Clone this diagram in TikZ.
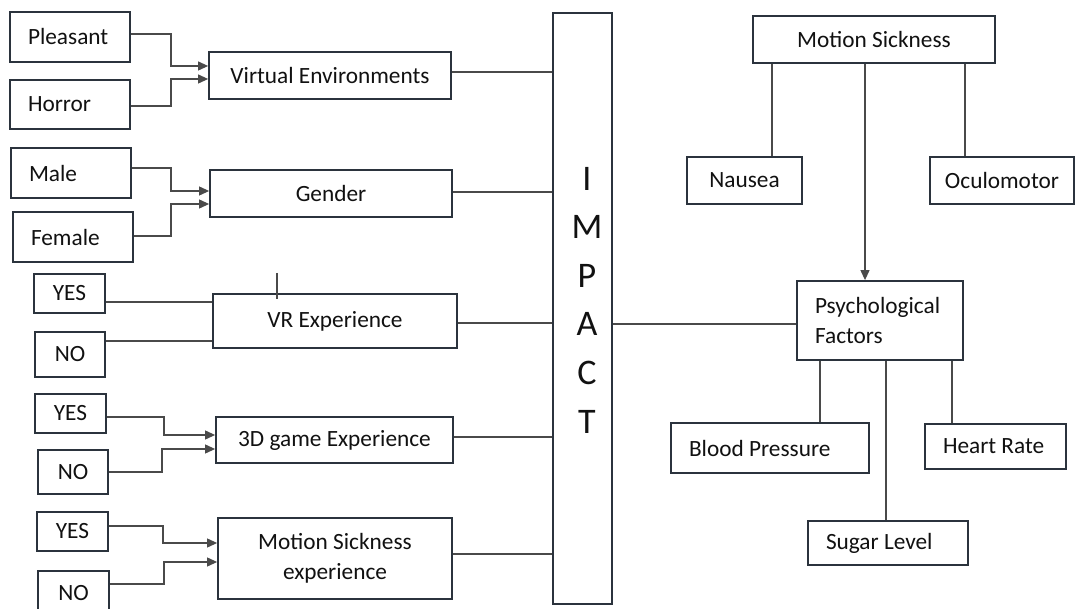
\documentclass[tikz,border=0pt]{standalone}
\usepackage{fontspec}
\setmainfont{Carlito}
\usetikzlibrary{arrows.meta}
\definecolor{bordc}{HTML}{2B333D}
\definecolor{linec}{HTML}{4A4A4A}
\definecolor{txtc}{HTML}{111111}
\begin{document}
\begin{tikzpicture}[x=1pt,y=-1pt,
  box/.style={draw=bordc, line width=1.8pt, rectangle, inner sep=0pt, text=txtc, font=\fontsize{23.3}{30}\selectfont},
  lbox/.style={box, align=flush left, inner xsep=18pt},
  conn/.style={draw=linec, line width=1.1pt},
  arr/.style={conn, -{Triangle[length=10pt,width=9pt]}},
]
\fill[white] (0,0) rectangle (1076,609);
\useasboundingbox (0,0) rectangle (1076,609);

% left column
\node[lbox, text width=84pt, minimum height=50pt] (pleasant) at (70,37) {Pleasant};
\node[lbox, text width=84pt, minimum height=49pt] (horror) at (70,104.5) {Horror};
\node[box, minimum width=242pt, minimum height=47pt] (ve) at (330,75.5) {Virtual Environments};
\node[lbox, text width=84pt, minimum height=50pt] (male) at (71,173) {Male};
\node[lbox, text width=84pt, minimum height=50pt] (female) at (73,237) {Female};
\node[box, minimum width=242pt, minimum height=47pt] (gender) at (331,193.5) {Gender};
\node[box, minimum width=71pt, minimum height=39pt] (yes1) at (69.5,293.5) {YES};
\node[box, minimum width=70pt, minimum height=45pt] (no1) at (70,354.5) {NO};
\node[box, minimum width=244pt, minimum height=54pt] (vr) at (335,321) {VR Experience};
\node[box, minimum width=71pt, minimum height=39pt] (yes2) at (70.5,413.5) {YES};
\node[box, minimum width=70pt, minimum height=44pt] (no2) at (73,472) {NO};
\node[box, minimum width=237pt, minimum height=46pt] (d3) at (334.5,440) {3D game Experience};
\node[box, minimum width=71pt, minimum height=39pt] (yes3) at (72.5,531.5) {YES};
\node[box, minimum width=71pt, minimum height=44pt] (no3) at (73.5,593) {NO};
\node[box, minimum width=234pt, minimum height=81pt, align=center] (mse) at (335,558.5) {Motion Sickness\\experience};

% impact
\node[box, minimum width=59pt, minimum height=591pt] (impact) at (582.5,308.5) {};
\node[text=txtc, inner sep=0pt, align=center, font=\fontsize{36}{48.6}\selectfont] (impactlbl) at (587,300) {I\\M\\P\\A\\C\\T};

% right side
\node[box, minimum width=242pt, minimum height=47pt] (ms) at (874,39.5) {Motion Sickness};
\node[box, minimum width=115pt, minimum height=47pt] (nausea) at (744.5,180.5) {Nausea};
\node[box, minimum width=144pt, minimum height=47pt] (oculo) at (1002,180.5) {Oculomotor};
\node[lbox, text width=130pt, minimum height=79pt] (psych) at (880,320.5) {Psychological\\Factors};
\node[lbox, text width=162pt, minimum height=50pt] (bp) at (770,448) {Blood Pressure};
\node[lbox, text width=105pt, minimum height=45pt] (hr) at (995.5,446.5) {Heart Rate};
\node[lbox, text width=124pt, minimum height=44pt] (sl) at (888,543) {Sugar Level};

% left connectors
\draw[arr] (pleasant.east |- 0,34) -- (171,34) -- (171,66) -- (ve.west |- 0,66);
\draw[arr] (horror.east |- 0,106) -- (171,106) -- (171,79) -- (ve.west |- 0,79);
\draw[arr] (male.east |- 0,168) -- (171,168) -- (171,191) -- (gender.west |- 0,191);
\draw[arr] (female.east |- 0,236) -- (171,236) -- (171,204) -- (gender.west |- 0,204);
\draw[conn] (yes1.east |- 0,302) -- (vr.west |- 0,302);
\draw[conn] (no1.east |- 0,341) -- (vr.west |- 0,341);
\coordinate (stub) at (277,273);
\coordinate (stubend) at (277,299);
\draw[conn] (stub) -- (stubend);
\draw[arr] (yes2.east |- 0,417) -- (164,417) -- (164,435) -- (d3.west |- 0,435);
\draw[arr] (no2.east |- 0,472) -- (162,472) -- (162,449) -- (d3.west |- 0,449);
\draw[arr] (yes3.east |- 0,526) -- (163,526) -- (163,543) -- (mse.west |- 0,543);
\draw[arr] (no3.east |- 0,584) -- (164,584) -- (164,562) -- (mse.west |- 0,562);

% to impact
\draw[conn] (ve.east |- 0,72) -- (impact.west |- 0,72);
\draw[conn] (gender.east |- 0,192) -- (impact.west |- 0,192);
\draw[conn] (vr.east |- 0,323) -- (impact.west |- 0,323);
\draw[conn] (d3.east |- 0,437) -- (impact.west |- 0,437);
\draw[conn] (mse.east |- 0,554) -- (impact.west |- 0,554);
\draw[conn] (impact.east |- 0,324) -- (psych.west |- 0,324);

% right connectors
\draw[conn] (ms.south -| 772,0) -- (nausea.north -| 772,0);
\draw[conn] (ms.south -| 965,0) -- (oculo.north -| 965,0);
\draw[arr] (ms.south -| 865,0) -- (psych.north -| 865,0);
\draw[conn] (psych.south -| 820,0) -- (bp.north -| 820,0);
\draw[conn] (psych.south -| 886,0) -- (sl.north -| 886,0);
\draw[conn] (psych.south -| 952,0) -- (hr.north -| 952,0);
\end{tikzpicture}
\end{document}
